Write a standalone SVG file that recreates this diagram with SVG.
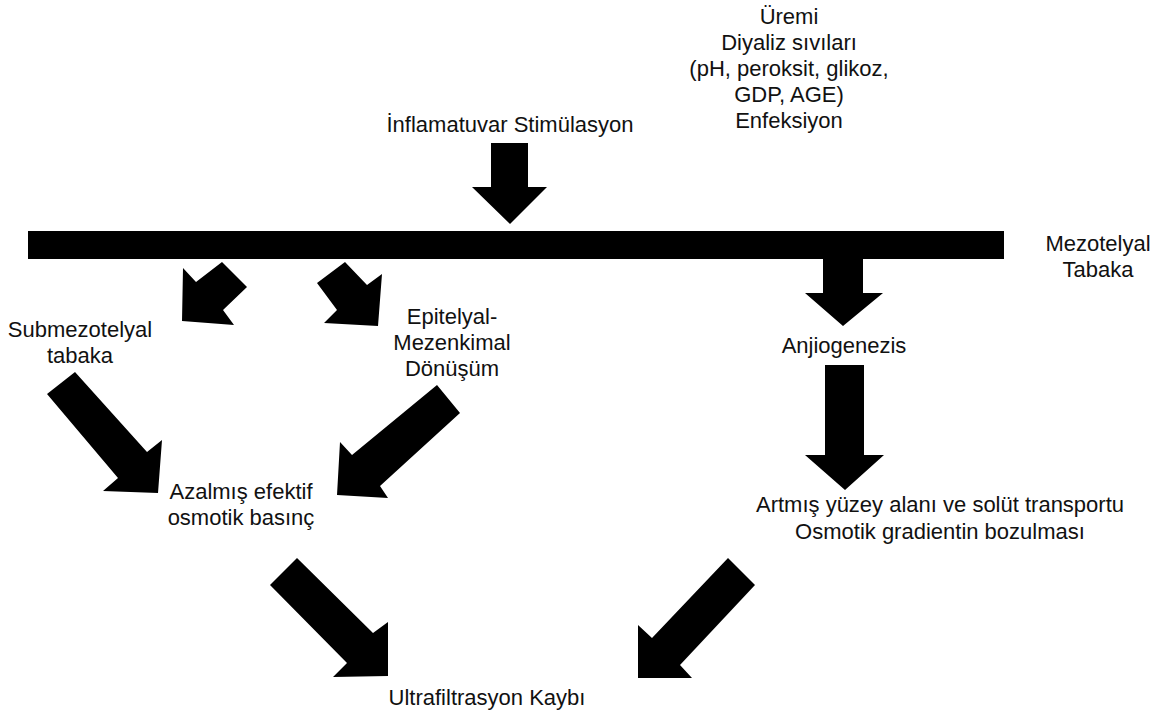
<svg xmlns="http://www.w3.org/2000/svg" width="1166" height="717" viewBox="0 0 1166 717">
<style>
text{font-family:"Liberation Sans",Arial,sans-serif;font-size:22px;fill:#111;text-anchor:middle}
.arr{fill:#000}
</style>
<rect width="1166" height="717" fill="#fff"/>
<g id="node-inputs">
<text x="789" y="24">Üremi</text>
<text x="789" y="50">Diyaliz sıvıları</text>
<text x="789" y="76">(pH, peroksit, glikoz,</text>
<text x="789" y="102">GDP, AGE)</text>
<text x="789" y="128">Enfeksiyon</text>
</g>
<g id="node-inflamatuvar"><text x="510" y="132">İnflamatuvar Stimülasyon</text></g>
<g id="node-mezotelyal">
<rect x="28" y="231" width="976" height="28" fill="#000"/>
<text x="1098" y="251">Mezotelyal</text>
<text x="1098" y="277">Tabaka</text>
</g>
<g id="node-submezotelyal"><text x="80" y="337">Submezotelyal</text><text x="80" y="363">tabaka</text></g>
<g id="node-emt"><text x="452" y="324">Epitelyal-</text><text x="452" y="350">Mezenkimal</text><text x="452" y="376">Dönüşüm</text></g>
<g id="node-anjiogenezis"><text x="844" y="353">Anjiogenezis</text></g>
<g id="node-azalmis"><text x="241" y="499">Azalmış efektif</text><text x="241" y="525">osmotik basınç</text></g>
<g id="node-artmis"><text x="940" y="512">Artmış yüzey alanı ve solüt transportu</text><text x="940" y="539">Osmotik gradientin bozulması</text></g>
<g id="node-uf"><text x="487" y="705">Ultrafiltrasyon Kaybı</text></g>
<g id="connectors" class="arr">
<polygon points="491,143 528,143 528,187 547,187 510,224 472,187 491,187"/>
<polygon points="222,262 247,287 223,310 234,325 182,321 183,268 196,282"/>
<polygon points="345,262 317,283 337,310 324,323 378,326 382,274 367,285"/>
<polygon points="823,259 863,259 863,293 883,293 843,326 805,293 823,293"/>
<polygon points="825,365 864,365 864,455 884,455 845,490 805,455 825,455"/>
<polygon points="47,394 75,372 147,452 162,440 158,493 103,491 118,478"/>
<polygon points="437,385 460,413 380,486 388,498 337,495 340,442 352,455"/>
<polygon points="270,585 297,558 373,633 388,622 388,676 333,677 347,663"/>
<polygon points="728,558 755,585 680,665 692,678 638,678 638,625 652,638"/>
</g>
</svg>
